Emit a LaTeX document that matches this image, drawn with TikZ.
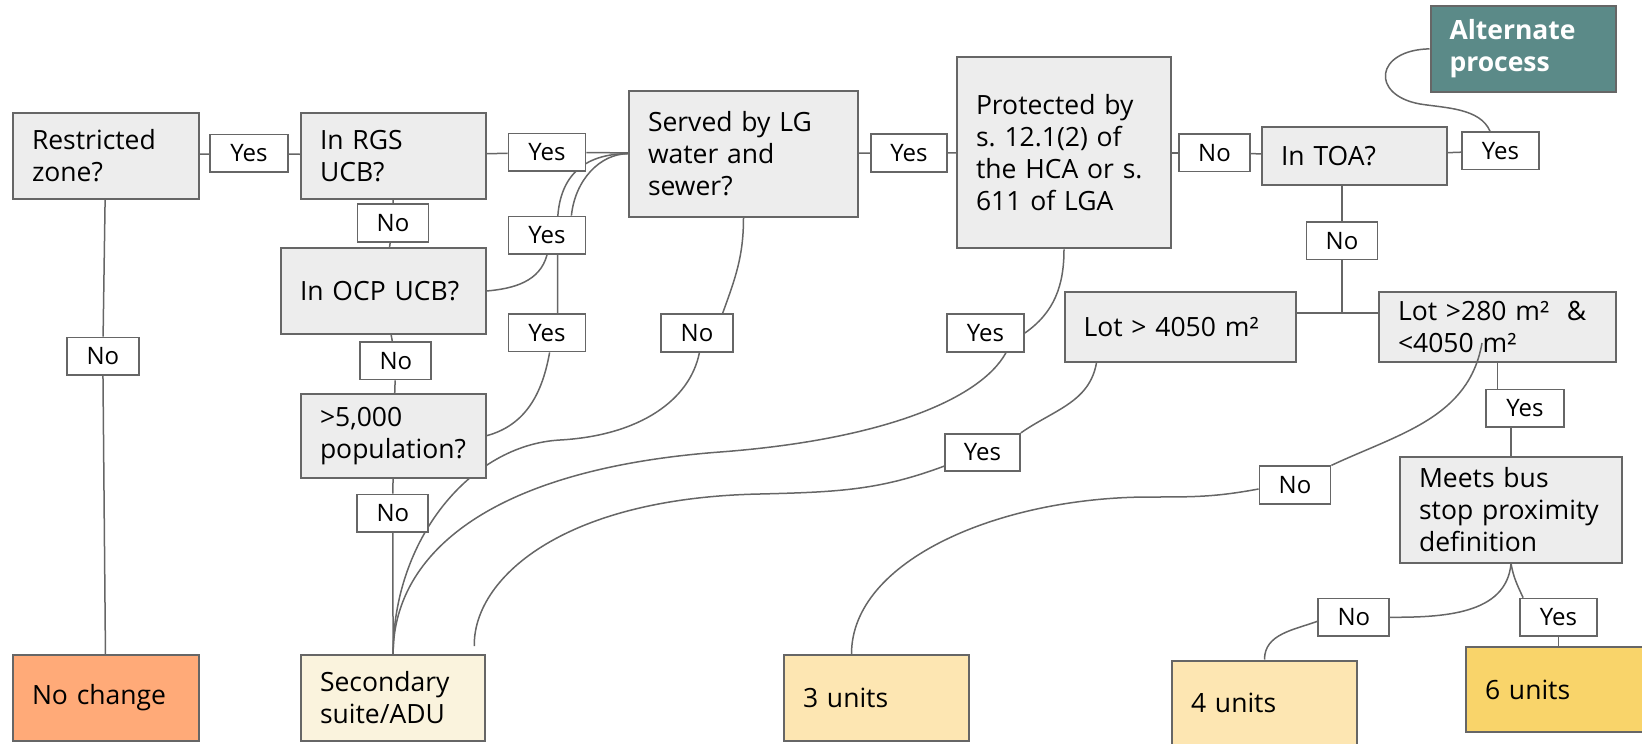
\documentclass[tikz,border=0pt]{standalone}
\usepackage{fontspec}
\setmainfont{Open Sans}
\usepackage{tikz}
\usetikzlibrary{calc,positioning,backgrounds}
\definecolor{boxgray}{HTML}{EDEDED}
\definecolor{edgegray}{HTML}{666666}
\definecolor{altteal}{HTML}{5B8A88}
\definecolor{nochg}{HTML}{FFAA78}
\definecolor{cream}{HTML}{FAF3DD}
\definecolor{sand}{HTML}{FDE6B2}
\definecolor{gold}{HTML}{F9D46A}
\frenchspacing

\begin{document}
\begin{tikzpicture}[x=1pt, y=-1pt, font=\fontsize{26.5}{32}\selectfont,
  lbl/.style={draw=edgegray, line width=1.8pt, fill=white, minimum height=37.5pt, inner sep=0pt, font=\fontsize{24}{28}\selectfont},
  con/.style={draw=edgegray, line width=1.5pt}]
\tikzstyle{qbox}=[draw=edgegray, line width=2pt, fill=boxgray, align=left, inner xsep=19pt, inner ysep=0pt]
\tikzstyle{ylbl}=[lbl, minimum width=77pt]
\tikzstyle{nlbl}=[lbl, minimum width=71pt]
\useasboundingbox (0,0) rectangle (1642,744);
% question boxes
\node[qbox, text width=147.5pt, minimum height=86pt] (rz) at (105.75,156) {Restricted\\zone?};
\node[qbox, text width=146.6pt, minimum height=86pt] (rgs) at (393.3,156) {In RGS\\UCB?};
\node[qbox, text width=166.6pt, minimum height=86pt] (ocp) at (383.3,291) {In OCP UCB?};
\node[qbox, text width=146.6pt, minimum height=84pt] (pop) at (393.3,436) {>5,000\\population?};
\node[qbox, text width=191pt, minimum height=126pt] (ws) at (743.5,153.7) {Served by LG\\water and\\sewer?};
\node[qbox, text width=176pt, minimum height=191pt] (prot) at (1064,152.8) {Protected by\\s. 12.1(2) of\\the HCA or s.\\611 of LGA};
\node[qbox, text width=147pt, minimum height=58.6pt] (toa) at (1354.5,156) {In TOA?};
\node[qbox, fill=altteal, text=white, font=\fontsize{26.5}{32}\selectfont\bfseries, text width=147.5pt, minimum height=86.3pt] (alt) at (1523.25,48.85) {Alternate\\process};
\node[qbox, text width=193.5pt, minimum height=70pt] (big) at (1180.25,326.7) {Lot > 4050 m²};
\node[qbox, text width=199pt, minimum height=70pt] (mid) at (1497.5,326.7) {Lot~>280~m²~~\&\\<4050 m²};
\node[qbox, text width=184pt, minimum height=105.8pt] (bus) at (1511,509.6) {Meets bus\\stop~proximity\\definition};
% outcomes
\node[qbox, fill=nochg, text width=147.7pt, minimum height=85.7pt] (nc) at (105.85,697.85) {No change};
\node[qbox, fill=cream, text width=146.3pt, minimum height=85.7pt] (adu) at (393.15,697.85) {Secondary\\suite/ADU};
\node[qbox, fill=sand, text width=146.5pt, minimum height=85.7pt] (u3) at (876.25,697.85) {3 units};
\node[qbox, fill=sand, text width=147pt, minimum height=85pt] (u4) at (1264.5,703) {4 units};
\node[qbox, fill=gold, text width=141pt, minimum height=85.6pt] (u6) at (1555.5,689.5) {6 units};
% answers
\node[ylbl, minimum width=78pt] (y1) at (249,153.3) {Yes};
\node[ylbl] (y2) at (547,152.3) {Yes};
\node[nlbl] (n1) at (393,223) {No};
\node[ylbl] (y3) at (547,235.3) {Yes};
\node[nlbl] (n2) at (395.8,360.8) {No};
\node[ylbl] (y4) at (547,332.8) {Yes};
\node[nlbl] (n3) at (392.8,513.2) {No};
\node[nlbl, minimum width=72pt] (n4) at (102.8,356.3) {No};
\node[ylbl, minimum width=76pt] (y5) at (909,153) {Yes};
\node[nlbl, minimum width=72pt] (n5) at (697,333) {No};
\node[ylbl] (y6) at (985.5,333) {Yes};
\node[nlbl] (n6) at (1214.5,152.8) {No};
\node[ylbl] (y7) at (1500.5,150.8) {Yes};
\node[nlbl] (n7) at (1342,240.8) {No};
\node[ylbl, minimum width=75pt] (y8) at (982.5,452.5) {Yes};
\node[nlbl] (n8) at (1295,485) {No};
\node[ylbl, minimum width=78pt] (y9) at (1525,408.2) {Yes};
\node[nlbl] (n9) at (1353.8,617.3) {No};
\node[ylbl] (y10) at (1558.5,617.3) {Yes};
\coordinate (fork) at (1342,313);
\coordinate (tip) at (1482,343);
\begin{scope}[on background layer]
\foreach \i/\j in {rz/y1,y1/rgs,rgs/y2,y2/ws,ws/y5,y5/prot,prot/n6,n6/toa,toa/y7,rgs/n1,n1/ocp,ocp/n2,n2/pop,pop/n3,n3/adu,rz/n4,n4/nc}{\draw[con] (\i) -- (\j);}
\draw[con] (toa.south -| n7) -- (n7) -- (fork);
\draw[con] (big.east |- fork) -- (mid.west |- fork);
\draw[con] (mid.south) -- (mid.south |- y9.north);
\draw[con] (y9.south -| bus.north) -- (bus.north);
\draw[con] (y10.south) -- (y10.south |- u6.north);
% curved connectors
\draw[con] (ocp.east) to[out=5, in=-105] (y3.south);
\draw[con] ($(y3.north)+(24.4,0)$) .. controls (575,180) and (600,153.7) .. (ws.west);
\draw[con] ($(pop.north east)+(0,42.7)$) to[out=15, in=-100] ($(y4.south)+(2.6,0)$);
\draw[con] ($(y4.north)+(10.5,0)$) -- (557.5,225) .. controls (557.5,175) and (585,153.7) .. (ws.west);
\draw[con] (ws.south) to[out=-90, in=70] ($(n5.north)+(25.6,0)$);
\draw[con] ($(n5.south)+(2.4,0)$) .. controls (690,400) and (640,435.5) .. (560,440) .. controls (470,445) and (393,540) .. (adu.north);
\draw[con] (prot.south) to[out=-90, in=35] (y6.east);
\draw[con] ($(y6.south)+(20.5,0)$) .. controls (980,400) and (880,440) .. (720,452) .. controls (480,470) and (393,560) .. (adu.north);
\draw[con] ($(big.south west)+(33,0)$) to[out=-100, in=35] (y8.north east);
\draw[con] ($(y8.south west)+(0,-6)$) .. controls (880,490) and (840,492) .. (760,494) .. controls (560,498) and (473,580) .. ($(adu.north east)+(-12,-8)$);
\draw[con] ($(n8.west)+(0,4)$) .. controls (1215,497) and (1195,497) .. (1150,497) .. controls (1000,497) and (851.5,560) .. ($(u3.north)+(-24.75,0)$);
\draw[con] (bus.south) to[out=-95, in=0] (n9.east);
\draw[con] (bus.south) to[out=-80, in=115] ($(y10.north west)+(4,0)$);
\draw[con] ($(n9.west)+(0,4)$) to[out=200, in=90] (u4.north);
\draw[con] ($(y7.north)+(-10.5,0)$) .. controls (1480,108) and (1445,108) .. (1420,104) .. controls (1370,95) and (1375,50) .. (alt.west);
\end{scope}
\draw[con] (tip) to[out=-100, in=25] (n8.north east);
\end{tikzpicture}
\end{document}
